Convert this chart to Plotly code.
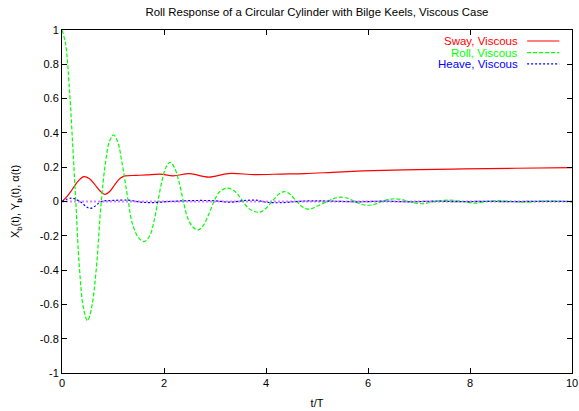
import plotly.graph_objects as go

# ---- data ----
sway_t = [0, 0.1, 0.2, 0.32, 0.43, 0.54, 0.64, 0.75, 0.84, 0.94, 1.04, 1.14, 1.24, 1.45, 1.66, 1.92,
          2.18, 2.5, 2.88, 3.26, 3.78, 4.3, 4.76, 5.3, 5.9, 6.5, 7.0, 7.9, 8.9, 10.0]
sway_v = [0.0, 0.03, 0.07, 0.12, 0.145, 0.132, 0.10, 0.06, 0.042, 0.06, 0.10, 0.135, 0.149, 0.152,
          0.155, 0.16, 0.15, 0.162, 0.142, 0.163, 0.157, 0.16, 0.163, 0.17, 0.178, 0.183, 0.186,
          0.19, 0.194, 0.197]

roll_t = [0, 0.07, 0.14, 0.21, 0.27, 0.34, 0.42, 0.5, 0.58, 0.67, 0.77, 0.85, 0.93, 1.01, 1.09,
          1.18, 1.3, 1.38, 1.5, 1.61, 1.72, 1.8, 1.88, 1.96, 2.04, 2.12, 2.2, 2.29, 2.38, 2.47,
          2.57, 2.67, 2.77, 2.87, 2.98, 3.07, 3.17, 3.26, 3.36, 3.45, 3.55, 3.66, 3.77, 3.88,
          3.98, 4.12, 4.24, 4.36, 4.48, 4.6, 4.72, 4.85, 4.98, 5.2, 5.34, 5.48, 5.62, 5.74,
          5.87, 6.0, 6.13, 6.27, 6.4, 6.53, 6.66, 6.8, 7.05, 7.32, 7.6, 7.85, 8.08, 8.32, 8.57,
          8.82, 9.07, 9.32, 9.57, 9.82, 10.0]
roll_v = [1.0, 0.92, 0.68, 0.33, 0.0, -0.38, -0.62, -0.695, -0.62, -0.4, 0.0, 0.22, 0.35, 0.388,
          0.35, 0.22, 0.0, -0.13, -0.21, -0.234, -0.2, -0.12, 0.0, 0.12, 0.2, 0.229, 0.2, 0.12,
          0.0, -0.1, -0.15, -0.166, -0.14, -0.08, 0.0, 0.05, 0.072, 0.078, 0.065, 0.04, 0.0,
          -0.04, -0.058, -0.062, -0.045, 0.0, 0.04, 0.058, 0.04, 0.0, -0.032, -0.045, -0.03,
          0.0, 0.018, 0.025, 0.018, 0.0, -0.016, -0.022, -0.016, 0.0, 0.012, 0.016, 0.012, 0.0,
          -0.013, 0.0, 0.008, 0.0, -0.009, 0.0, 0.005, 0.0, -0.004, 0.0, 0.003, 0.0, -0.002]

heave_t = [0, 0.19, 0.35, 0.55, 0.78, 1.0, 1.3, 1.55, 1.8, 2.1, 2.4, 2.7, 3.0, 3.3, 3.6, 3.8,
           4.0, 4.3, 4.6, 4.9, 5.3, 5.8, 6.3, 6.8, 7.3, 7.8, 8.3, 8.8, 9.3, 10.0]
heave_v = [0.0, 0.02, 0.0, -0.04, 0.0, 0.006, 0.008, -0.004, -0.006, 0.0, 0.004, 0.006, 0.004,
           -0.004, 0.006, 0.008, -0.004, -0.007, 0.0, 0.004, 0.002, -0.002, 0.002, -0.002, 0.002,
           -0.001, 0.001, -0.001, 0.001, 0.0]

x_ticks = [0, 2, 4, 6, 8, 10]
x_ticktext = ["0", "2", "4", "6", "8", "10"]
y_ticks = [-1, -0.8, -0.6, -0.4, -0.2, 0, 0.2, 0.4, 0.6, 0.8, 1]
y_ticktext = ["-1", "-0.8", "-0.6", "-0.4", "-0.2", "0", "0.2", "0.4", "0.6", "0.8", "1"]

series_names = ["Sway, Viscous", "Roll, Viscous", "Heave, Viscous"]
series_colors = ["#ff0000", "#00ff00", "#0000ff"]
series_dash = ["solid", "4px,2px", "2px,2px"]

FONT = "Liberation Sans, Arial, sans-serif"

fig = go.Figure()

# zero axis (dotted violet)
fig.add_trace(go.Scatter(x=[0, 10], y=[0, 0], mode="lines",
                         line=dict(color="#e080ff", width=2, dash="2px,2px"),
                         showlegend=False, hoverinfo="skip"))

data = [(sway_t, sway_v), (roll_t, roll_v), (heave_t, heave_v)]
for (t, v), name, col, dsh in zip(data, series_names, series_colors, series_dash):
    fig.add_trace(go.Scatter(x=t, y=v, mode="lines", name=name,
                             line=dict(color=col, width=1.2, dash=dsh, shape="spline", smoothing=1.0),
                             showlegend=False))

# manual gnuplot-style legend: text right-aligned, sample line to the right
leg_y = [0.968, 0.934, 0.901]
for name, col, dsh, yy in zip(series_names, series_colors, series_dash, leg_y):
    fig.add_annotation(x=0.898, y=yy, xref="paper", yref="paper", text=name,
                       showarrow=False, xanchor="right", yanchor="middle",
                       font=dict(family=FONT, size=11.5, color=col))
    fig.add_shape(type="line", xref="paper", yref="paper", x0=0.912, x1=0.975, y0=yy, y1=yy,
                  line=dict(color=col, width=1.2, dash=dsh))

fig.update_layout(
    width=579, height=411,
    margin=dict(l=62, r=7, t=30, b=38, autoexpand=False),
    paper_bgcolor="white", plot_bgcolor="white",
    font=dict(family=FONT, size=11, color="black"),
    title=dict(text="Roll Response of a Circular Cylinder with Bilge Keels, Viscous Case",
               x=0.5, xref="paper", xanchor="center", y=0.971, yanchor="middle",
               font=dict(family=FONT, size=11.4, color="black")),
    xaxis=dict(range=[0, 10], tickvals=x_ticks, ticktext=x_ticktext, ticks="inside",
               ticklen=5, tickcolor="black", showline=True, linecolor="black", linewidth=1,
               mirror="ticks", showgrid=False, zeroline=False, automargin=False,
               ticklabeloverflow="allow",
               title=dict(text="t/T", standoff=11, font=dict(family=FONT, size=11))),
    yaxis=dict(range=[-1, 1], tickvals=y_ticks, ticktext=y_ticktext, ticks="inside",
               ticklen=5, tickcolor="black", showline=True, linecolor="black", linewidth=1,
               mirror="ticks", showgrid=False, zeroline=False, automargin=False,
               title=dict(text="X<sub>b</sub>(t), Y<sub><b>b</b></sub>(t), α(t)", standoff=17,
                          font=dict(family=FONT, size=11))),
)

fig.write_html("out.html", config={"displayModeBar": False},
               post_script="document.body.style.margin='0';document.body.style.overflow='hidden';")
